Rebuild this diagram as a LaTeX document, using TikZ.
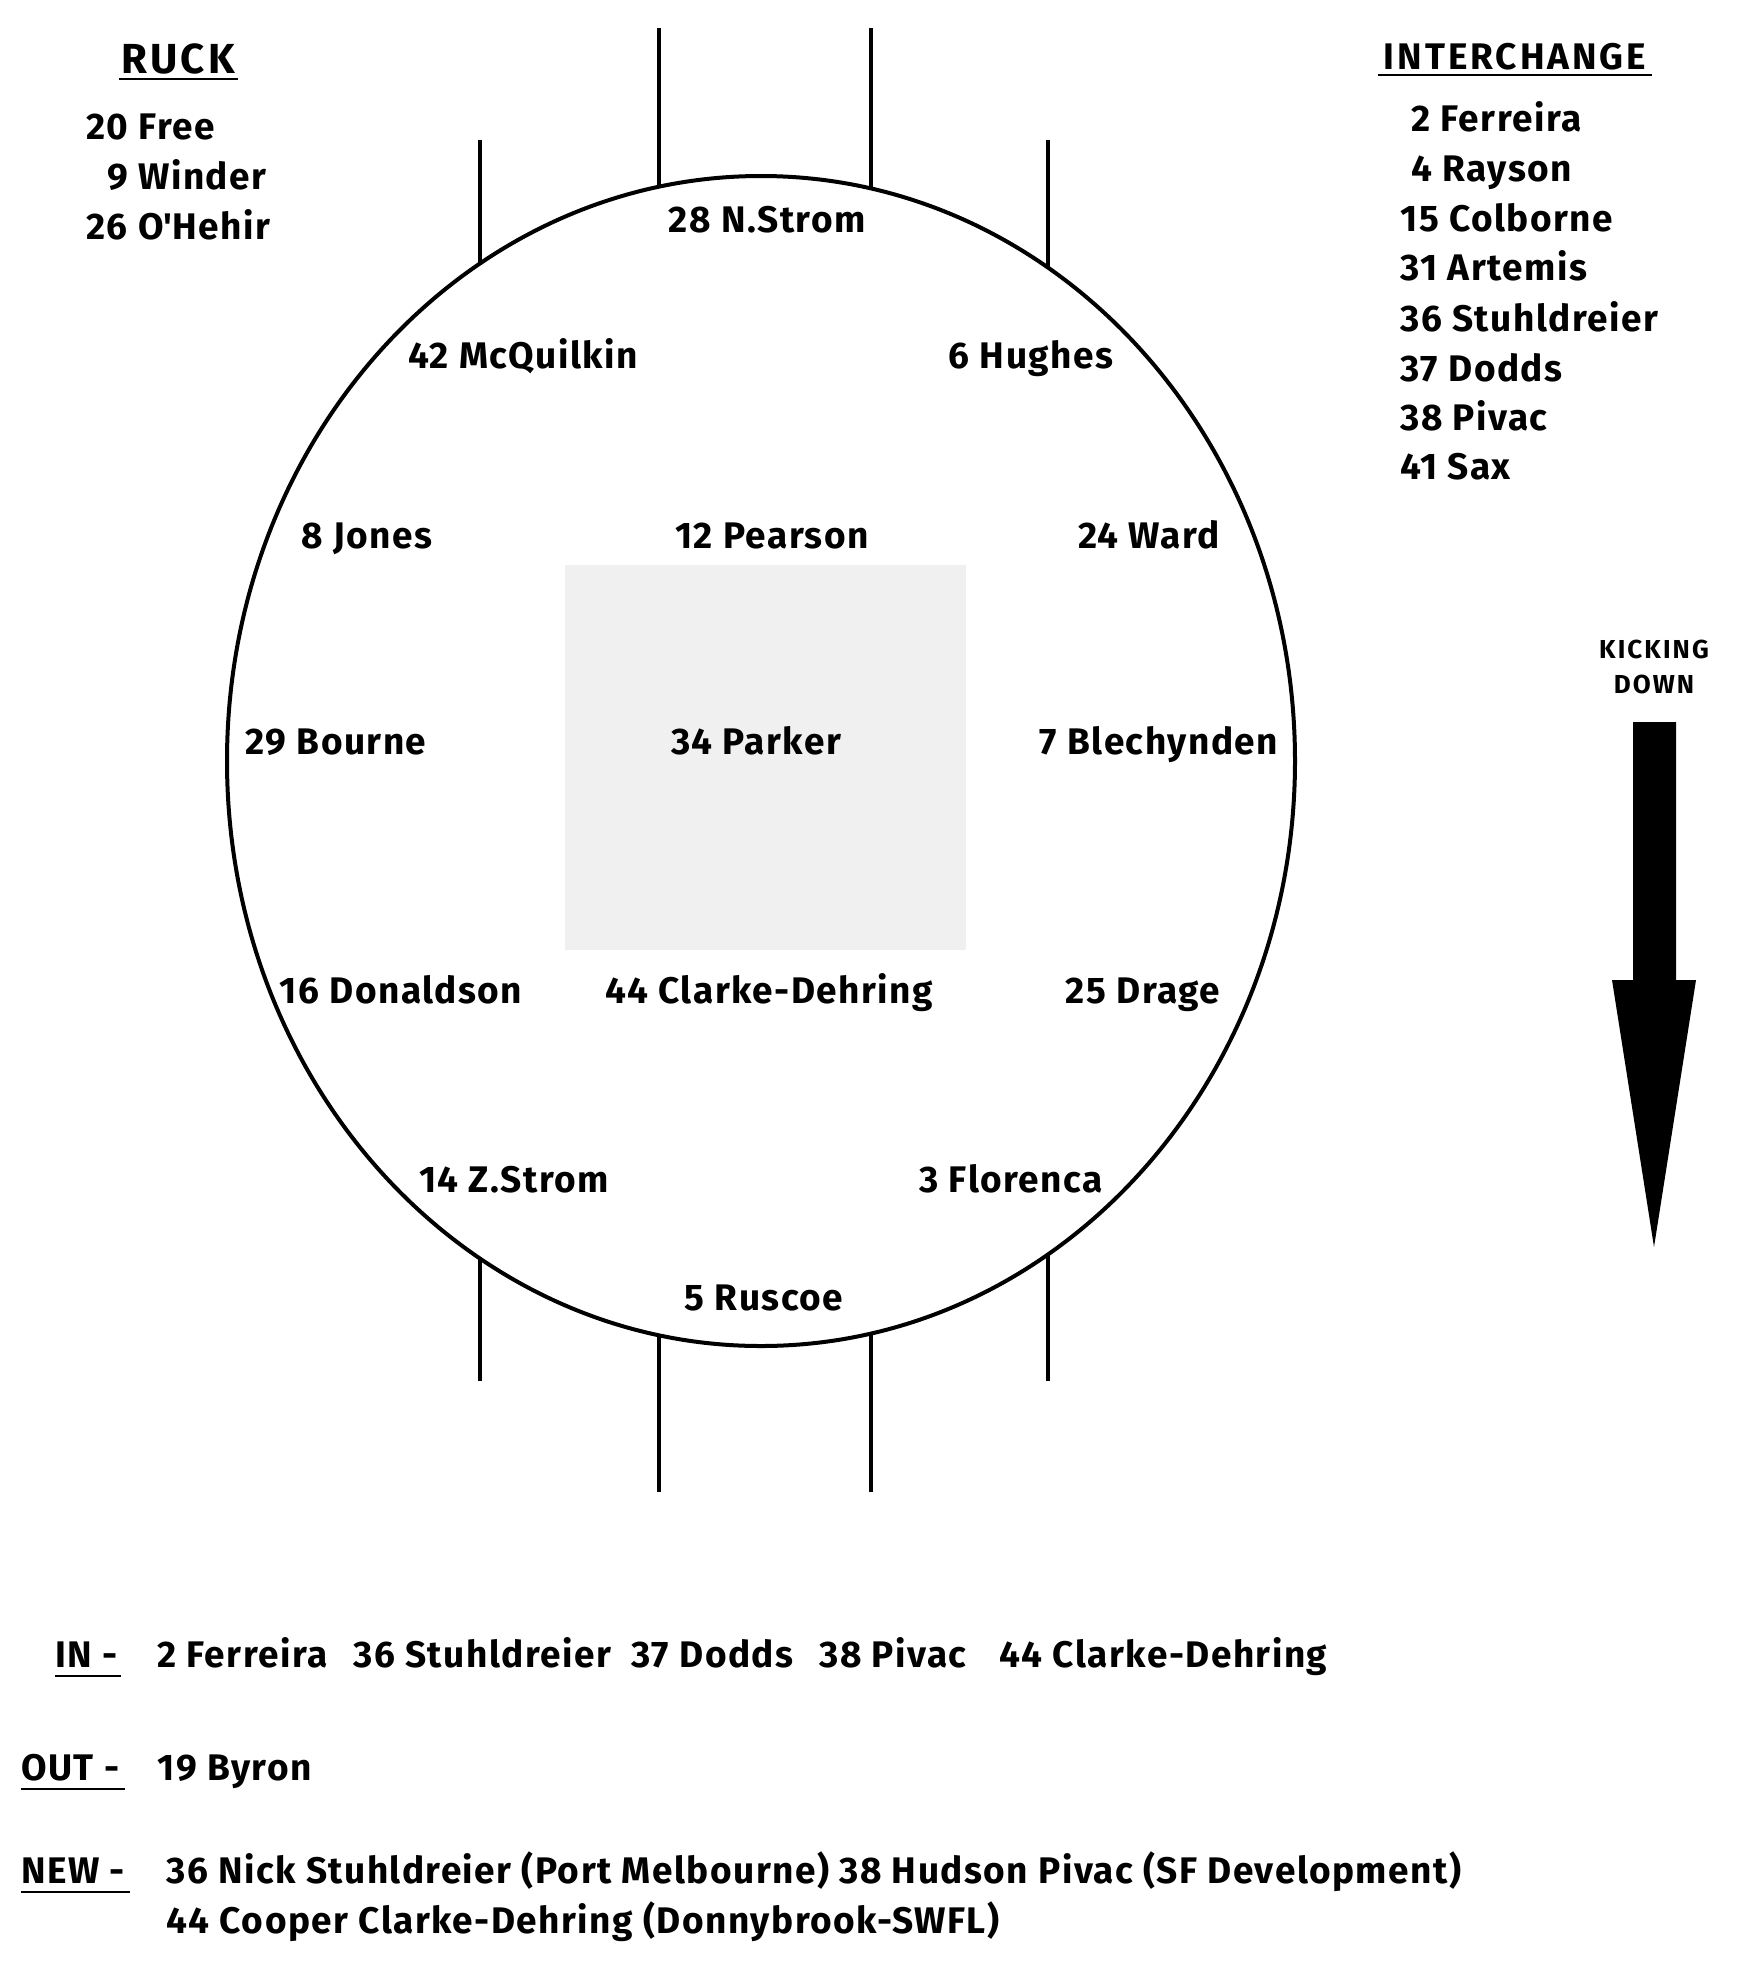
\documentclass[tikz,border=0pt]{standalone}
\usepackage{fontspec}
\setmainfont{Fira Sans}
\newfontfamily\headfont[LetterSpace=8]{Fira Sans}
\newfontfamily\kickfont[LetterSpace=8]{Fira Sans}
\newfontfamily\lblfont[LetterSpace=4]{Fira Sans}
\definecolor{sqgrey}{RGB}{240,240,240}
\begin{document}
\begin{tikzpicture}[x=0.5pt,y=-0.5pt,
  lbl/.style={font=\lblfont\bfseries\fontsize{18.5}{22}\selectfont, inner sep=0pt, anchor=base},
  lst/.style={lbl, anchor=base west},
  headtxt/.style={font=\headfont\bfseries\fontsize{18.5}{22}\selectfont, inner sep=0pt, anchor=base},
  kick/.style={font=\kickfont\bfseries\fontsize{13}{15}\selectfont, inner sep=0pt, anchor=base},
  post/.style={line width=2pt},
  fieldline/.style={line width=2pt},
  uline/.style={line width=0.8pt}]
\useasboundingbox (0,0) rectangle (1744,1976);
\fill[white] (0,0) rectangle (1744,1976);

% centre square
\fill[sqgrey] (565,565) rectangle (966,950);

% posts
\draw[post] (659,28) -- (659,188);
\draw[post] (871,28) -- (871,190);
\draw[post] (480,140) -- (480,265);
\draw[post] (1048,140) -- (1048,269);
\draw[post] (659,1334) -- (659,1492);
\draw[post] (871,1332) -- (871,1492);
\draw[post] (480,1257) -- (480,1381);
\draw[post] (1048,1253) -- (1048,1381);

% field boundary
\draw[fieldline] (761,761) ellipse [x radius=534, y radius=585];

% field labels
\node[lbl] (nstrom) at (767,232) {28 N.Strom};
\node[lbl] (mcq) at (523,368) {42 McQuilkin};
\node[lbl] (hughes) at (1031,368) {6 Hughes};
\node[lbl] (jones) at (367,548) {8 Jones};
\node[lbl] (pearson) at (772,548) {12 Pearson};
\node[lbl] (ward) at (1149,548) {24 Ward};
\node[lbl] (bourne) at (336,754) {29 Bourne};
\node[lbl] (parker) at (756,754) {34 Parker};
\node[lbl] (blech) at (1159,754) {7 Blechynden};
\node[lbl] (donald) at (401,1003) {16 Donaldson};
\node[lbl] (clarke) at (769,1003) {44 Clarke-Dehring};
\node[lbl] (drage) at (1143,1003) {25 Drage};
\node[lbl] (zstrom) at (514,1192) {14 Z.Strom};
\node[lbl] (flor) at (1011,1192) {3 Florenca};
\node[lbl] (ruscoe) at (764,1310) {5 Ruscoe};

% ruck
\node[headtxt, font=\headfont\bfseries\fontsize{21}{24}\selectfont] (ruck) at (178,73) {RUCK};
\draw[uline] (119,79) -- (238,79);
\node[lst] (r1) at (86,139) {20 Free};
\node[lst] (r2) at (107,189) {9 Winder};
\node[lst] (r3) at (86,239) {26 O\textquotesingle Hehir};

% interchange
\node[headtxt] (inter) at (1515,69) {INTERCHANGE};
\draw[uline] (1378,75) -- (1652,75);
\node[lst] (i1) at (1411,131) {2 Ferreira};
\node[lst] (i2) at (1411,181) {4 Rayson};
\node[lst] (i3) at (1400,231) {15 Colborne};
\node[lst] (i4) at (1400,280) {31 Artemis};
\node[lst] (i5) at (1400,331) {36 Stuhldreier};
\node[lst] (i6) at (1400,381) {37 Dodds};
\node[lst] (i7) at (1400,430) {38 Pivac};
\node[lst] (i8) at (1400,479) {41 Sax};

% kicking direction
\node[kick] (k1) at (1654,658) {KICKING};
\node[kick] (k2) at (1654,693) {DOWN};
\fill (1633,722) -- (1676,722) -- (1676,980) -- (1696,980) -- (1654,1247) -- (1612,980) -- (1633,980) -- cycle;

% bottom notes
\node[lst] (inlab) at (55,1667) {IN -};
\draw[uline] (55,1676) -- (121,1676);
\node[lst] (in1) at (157,1667) {2 Ferreira};
\node[lst] (in2) at (353,1667) {36 Stuhldreier};
\node[lst] (in3) at (631,1667) {37 Dodds};
\node[lst] (in4) at (819,1667) {38 Pivac};
\node[lst] (in5) at (999,1667) {44 Clarke-Dehring};

\node[lst] (outlab) at (21,1780) {OUT -};
\draw[uline] (21,1789) -- (125,1789);
\node[lst] (out1) at (157,1780) {19 Byron};

\node[lst] (newlab) at (21,1883) {NEW -};
\draw[uline] (21,1892) -- (130,1892);
\node[lst] (new1) at (166,1883) {36 Nick Stuhldreier (Port Melbourne) 38 Hudson Pivac (SF Development)};
\node[lst] (new2) at (166,1933) {44 Cooper Clarke-Dehring (Donnybrook-SWFL)};
\end{tikzpicture}
\end{document}
